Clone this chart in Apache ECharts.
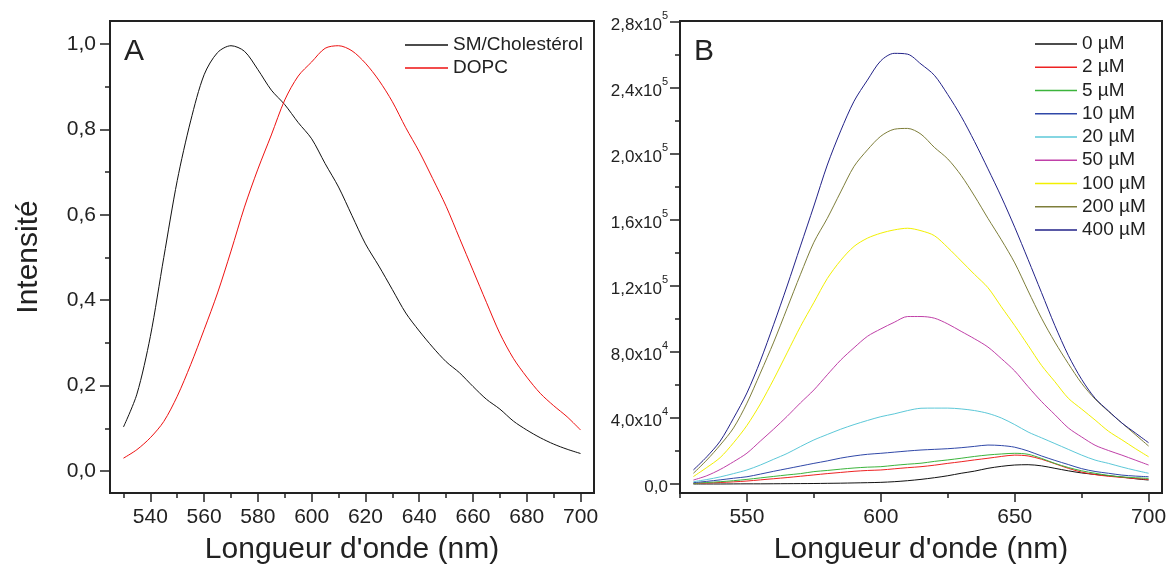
<!DOCTYPE html>
<html>
<head>
<meta charset="utf-8">
<script src="https://cdn.jsdelivr.net/npm/echarts@6/dist/echarts.min.js"></script>
<style>
  html, body { margin: 0; padding: 0; background: #fff; }
  #chart { width: 1170px; height: 570px; }
</style>
</head>
<body>
<div id="chart"></div>
<script>
// longueurs d'onde communes (nm)
var wl = [530, 535, 540, 545, 550, 555, 560, 565, 570, 575, 580, 585, 590, 595, 600, 605, 610, 615,
  620, 625, 630, 635, 640, 645, 650, 655, 660, 665, 670, 675, 680, 685, 690, 695, 700];

// panneau A : intensité normalisée
var smChol = [0.103, 0.18, 0.315, 0.50, 0.68, 0.82, 0.928, 0.98, 0.996, 0.983, 0.94, 0.892, 0.858, 0.816, 0.778, 0.72, 0.665, 0.598,
  0.532, 0.48, 0.425, 0.37, 0.328, 0.29, 0.256, 0.23, 0.198, 0.168, 0.145, 0.117, 0.096, 0.078, 0.063, 0.051, 0.041];
var dopc = [0.03, 0.05, 0.078, 0.116, 0.175, 0.249, 0.331, 0.417, 0.515, 0.618, 0.707, 0.787, 0.869, 0.925, 0.958, 0.99, 0.996, 0.984,
  0.955, 0.915, 0.865, 0.804, 0.748, 0.685, 0.62, 0.545, 0.47, 0.395, 0.322, 0.264, 0.22, 0.182, 0.153, 0.127, 0.096];

// panneau B : intensité brute selon la concentration
var c0 = [0, 0, 0, 50, 100, 100, 150, 200, 250, 300, 400, 500, 650, 800, 1000, 1400, 2000, 2800,
  3800, 5000, 6500, 7800, 9500, 10700, 11500, 11700, 11000, 9500, 8000, 6700, 5800, 5000, 4200, 3200, 2400];
var c2 = [300, 600, 900, 1300, 1800, 2500, 3200, 3900, 4700, 5500, 6300, 7000, 7700, 8200, 8500, 9200, 9900, 10500,
  11400, 12500, 13500, 14600, 15600, 16700, 17500, 17000, 15000, 12300, 9500, 7200, 5700, 4700, 4000, 3300, 2800];
var c5 = [400, 900, 1400, 2000, 2800, 3700, 4600, 5500, 6300, 7500, 8200, 9000, 9700, 10200, 10500, 11300, 12000, 12600,
  13700, 14600, 15600, 16700, 17600, 18200, 18600, 18000, 15500, 12500, 10000, 8000, 6500, 5200, 4300, 3800, 3400];
var c10 = [800, 1600, 2500, 3500, 4400, 6000, 7700, 9300, 10900, 12500, 14000, 15700, 17000, 18000, 18600, 19300, 20000, 20600,
  21000, 21400, 22000, 22800, 23600, 23300, 22300, 20000, 17000, 14300, 11800, 9300, 7600, 6500, 5400, 4800, 4400];
var c20 = [1400, 2700, 4300, 6300, 8500, 11500, 15000, 18500, 22700, 26700, 30000, 33200, 36000, 38500, 40800, 42500, 44500, 45900,
  46000, 46000, 45500, 44500, 42800, 40000, 36000, 31500, 28000, 24500, 21000, 17500, 14500, 12500, 10300, 8300, 6500];
var c50 = [2400, 5000, 8800, 13500, 18700, 26000, 33300, 41000, 49200, 57000, 66200, 75100, 82600, 89500, 94000, 98000, 101500, 101500,
  100500, 97000, 92500, 88000, 83000, 76000, 68500, 59000, 50000, 42000, 34000, 28500, 23500, 20300, 17500, 14500, 11500];
var c100 = [4500, 10000, 16000, 25000, 35500, 48500, 63500, 79500, 95500, 110000, 124500, 135500, 144000, 149000, 152000, 154000, 155000, 153500,
  150500, 143300, 135200, 127000, 119000, 107400, 96000, 84000, 71900, 62000, 52000, 45400, 38800, 32000, 26800, 21500, 16500];
var c200 = [6500, 14500, 23600, 34000, 49000, 67200, 86000, 106500, 127100, 146500, 161000, 177000, 192500, 202500, 210800, 215000, 215500, 212000,
  204000, 197000, 187000, 174500, 161000, 148000, 134000, 117000, 100500, 86000, 73000, 61000, 51500, 44000, 37000, 30000, 23000];
var c400 = [8500, 16500, 26000, 39900, 55200, 74600, 96800, 120000, 144300, 168500, 193300, 214000, 232000, 244800, 256500, 261000, 260500, 254500,
  247700, 236000, 222800, 207500, 191000, 174000, 155600, 136000, 116000, 96000, 78000, 63400, 52000, 44300, 37000, 31000, 25000];

var concNames = ['0 µM', '2 µM', '5 µM', '10 µM', '20 µM', '50 µM', '100 µM', '200 µM', '400 µM'];
var concData = [c0, c2, c5, c10, c20, c50, c100, c200, c400];
var concColors = ['#111111', '#ee2222', '#3cb43c', '#3048a8', '#5cc8d8', '#c040a8', '#f2f000', '#7e7e3a', '#222288'];

// graduations
var aXMajor = [540, 560, 580, 600, 620, 640, 660, 680, 700];
var aXMinor = [530, 550, 570, 590, 610, 630, 650, 670, 690];
var aYMajor = [0, 0.2, 0.4, 0.6, 0.8, 1.0];
var aYMinor = [0.1, 0.3, 0.5, 0.7, 0.9];
var bXMajor = [550, 600, 650, 700];
var bXMinor = [525, 575, 625, 675];
var bYMajor = [0, 40000, 80000, 120000, 160000, 200000, 240000, 280000];
var bYMinor = [20000, 60000, 100000, 140000, 180000, 220000, 260000];

var FONT = '"Liberation Sans", Arial, Helvetica, sans-serif';
var INK = '#222';

function pairs(xs, ys) {
  var out = [];
  for (var i = 0; i < xs.length; i++) out.push([xs[i], ys[i]]);
  return out;
}

function commaFmt(v) {
  return v.toFixed(1).replace('.', ',');
}

function sciFmt(v) {
  if (v === 0) return '{m|0,0}';
  var e = Math.floor(Math.log10(v) + 1e-9);
  var m = (v / Math.pow(10, e)).toFixed(1).replace('.', ',');
  return '{m|' + m + 'x10}{e|' + e + '}';
}

function xAxisDef(grid, min, max, major, minor, withLabels) {
  return {
    type: 'value', gridIndex: grid, min: min, max: max, position: 'bottom',
    splitLine: { show: false },
    axisLine: { show: false, onZero: false },
    axisTick: { show: true, inside: false, length: withLabels ? 9 : 5, customValues: withLabels ? major : minor,
      lineStyle: { color: INK, width: 1.5 } },
    axisLabel: withLabels ? { show: true, customValues: major, margin: 14, fontSize: 21, color: INK, fontFamily: FONT }
      : { show: false },
    name: withLabels ? "Longueur d'onde (nm)" : '',
    nameLocation: 'middle', nameGap: 42,
    nameTextStyle: { fontSize: 30, color: INK, fontFamily: FONT }
  };
}

function yAxisDef(grid, min, max, major, minor, withLabels, fmt, rich) {
  var label = { show: false };
  if (withLabels) {
    label = { show: true, customValues: major, margin: rich ? 12 : 14, fontSize: rich ? 17 : 21, color: INK, fontFamily: FONT, formatter: fmt };
    if (rich) label.rich = {
      m: { fontSize: 17, color: INK, fontFamily: FONT, lineHeight: 24, verticalAlign: 'bottom' },
      e: { fontSize: 11, color: INK, fontFamily: FONT, lineHeight: 24, verticalAlign: 'top' }
    };
  }
  return {
    type: 'value', gridIndex: grid, min: min, max: max, position: 'left',
    splitLine: { show: false },
    axisLine: { show: false, onZero: false },
    axisTick: { show: true, inside: false, length: withLabels ? 10 : 5, customValues: withLabels ? major : minor,
      lineStyle: { color: INK, width: 1.5 } },
    axisLabel: label
  };
}

var chart = echarts.init(document.getElementById('chart'));

var series = [
  { name: 'SM/Cholestérol', type: 'line', xAxisIndex: 0, yAxisIndex: 0, data: pairs(wl, smChol),
    symbol: 'none', smooth: 0.3, lineStyle: { color: '#111', width: 1 }, itemStyle: { color: '#111' } },
  { name: 'DOPC', type: 'line', xAxisIndex: 0, yAxisIndex: 0, data: pairs(wl, dopc),
    symbol: 'none', smooth: 0.3, lineStyle: { color: '#ee1111', width: 1 }, itemStyle: { color: '#ee1111' } }
];
for (var k = 0; k < concNames.length; k++) {
  series.push({
    name: concNames[k], type: 'line', xAxisIndex: 2, yAxisIndex: 2, data: pairs(wl, concData[k]),
    symbol: 'none', smooth: 0.3, lineStyle: { color: concColors[k], width: 1 }, itemStyle: { color: concColors[k] }
  });
}

var legendText = { fontSize: 19, color: INK, fontFamily: FONT, lineHeight: 20 };

var option = {
  animation: false,
  backgroundColor: '#fff',
  textStyle: { fontFamily: FONT },
  grid: [
    { left: 110, top: 21, width: 484, height: 472, show: true, borderColor: INK, borderWidth: 2 },
    { left: 680, top: 21, width: 482, height: 472, show: true, borderColor: INK, borderWidth: 2 }
  ],
  xAxis: [
    xAxisDef(0, 525, 705, aXMajor, aXMinor, true),
    xAxisDef(0, 525, 705, aXMajor, aXMinor, false),
    xAxisDef(1, 525, 705, bXMajor, bXMinor, true),
    xAxisDef(1, 525, 705, bXMajor, bXMinor, false)
  ],
  yAxis: [
    (function () {
      var a = yAxisDef(0, -0.0515, 1.0539, aYMajor, aYMinor, true, commaFmt, false);
      a.name = 'Intensité';
      a.nameLocation = 'middle';
      a.nameGap = 66;
      a.nameTextStyle = { fontSize: 30, color: INK, fontFamily: FONT };
      return a;
    })(),
    yAxisDef(0, -0.0515, 1.0539, aYMajor, aYMinor, false),
    yAxisDef(1, -5455, 280606, bYMajor, bYMinor, true, sciFmt, true),
    yAxisDef(1, -5455, 280606, bYMajor, bYMinor, false)
  ],
  legend: [
    { data: ['SM/Cholestérol', 'DOPC'], orient: 'vertical', left: 405, top: 35, padding: 0, icon: 'rect',
      itemWidth: 43, itemHeight: 1.5, itemGap: 3, textStyle: legendText },
    { data: concNames, orient: 'vertical', left: 1035, top: 34, padding: 0, icon: 'rect',
      itemWidth: 42, itemHeight: 1.5, itemGap: 3.25, textStyle: legendText }
  ],
  graphic: [
    { type: 'text', left: 124, top: 37, style: { text: 'A', fontSize: 30, fill: INK, fontFamily: FONT } },
    { type: 'text', left: 694, top: 37, style: { text: 'B', fontSize: 30, fill: INK, fontFamily: FONT } }
  ],
  series: series
};

chart.setOption(option);
</script>
</body>
</html>
